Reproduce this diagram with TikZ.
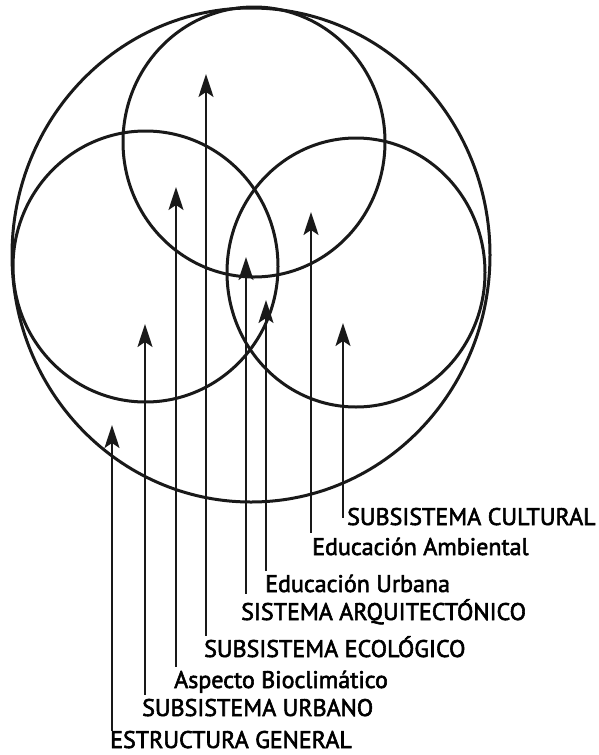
\documentclass[tikz,border=0pt]{standalone}
\usepackage{fontspec}
\setmainfont{PT Sans}
\newfontfamily\etiqfont{PT Sans}[FakeBold=2.4]
\usetikzlibrary{arrows.meta,positioning,calc}

\begin{document}
\begin{tikzpicture}[x=1pt,y=-1pt,
  circulo/.style={line width=3pt,black!90},
  flecha/.style={-{Stealth[length=23pt,width=15pt,inset=5pt]},line width=2pt,black!90},
  etiqueta/.style={anchor=base west,inner sep=0pt,text height=17pt,text depth=0pt,
    font=\etiqfont\fontsize{24}{26}\selectfont}]
  \useasboundingbox (0,0) rectangle (599,755);
  % circulos
  \draw[circulo] (251,255) ellipse [x radius=239,y radius=247];
  \draw[circulo] (254,142) ellipse [x radius=131,y radius=135];
  \draw[circulo] (145.5,266.5) ellipse [x radius=132.5,y radius=135.5];
  \draw[circulo] (356,272.5) ellipse [x radius=129,y radius=134.5];
  % etiquetas
  \node[etiqueta] (general) at (110,748) {ESTRUCTURA GENERAL};
  \node[etiqueta] (urbano) at (142,716) {SUBSISTEMA URBANO};
  \node[etiqueta] (biocl) at (174,688) {Aspecto Bioclimático};
  \node[etiqueta] (ecol) at (204,657) {SUBSISTEMA ECOLÓGICO};
  \node[etiqueta] (arq) at (241,620) {SISTEMA ARQUITECTÓNICO};
  \node[etiqueta] (edurb) at (265,592) {Educación Urbana};
  \node[etiqueta] (edamb) at (312,555) {Educación Ambiental};
  \node[etiqueta] (cult) at (347,525) {SUBSISTEMA CULTURAL};
  % puntas
  \coordinate (p general) at (112,425);
  \coordinate (p urbano) at (145,324);
  \coordinate (p biocl) at (176,187);
  \coordinate (p ecol) at (206,74);
  \coordinate (p arq) at (246,257);
  \coordinate (p edurb) at (266,300);
  \coordinate (p edamb) at (311,212);
  \coordinate (p cult) at (343,323);
  % flechas
  \draw[flecha] (p general |- general.north) -- (p general);
  \draw[flecha] ([yshift=4pt]p urbano |- urbano.north) -- (p urbano);
  \draw[flecha] ([yshift=4pt]p biocl |- biocl.north) -- (p biocl);
  \draw[flecha] ([yshift=4pt]p ecol |- ecol.north) -- (p ecol);
  \draw[flecha] ([yshift=9pt]p arq |- arq.north) -- (p arq);
  \draw[flecha] ([yshift=4pt]p edurb |- edurb.north) -- (p edurb);
  \draw[flecha] ([yshift=5pt]p edamb |- edamb.north) -- (p edamb);
  \draw[flecha] ([yshift=-10pt]p cult |- cult.north) -- (p cult);
\end{tikzpicture}
\end{document}
